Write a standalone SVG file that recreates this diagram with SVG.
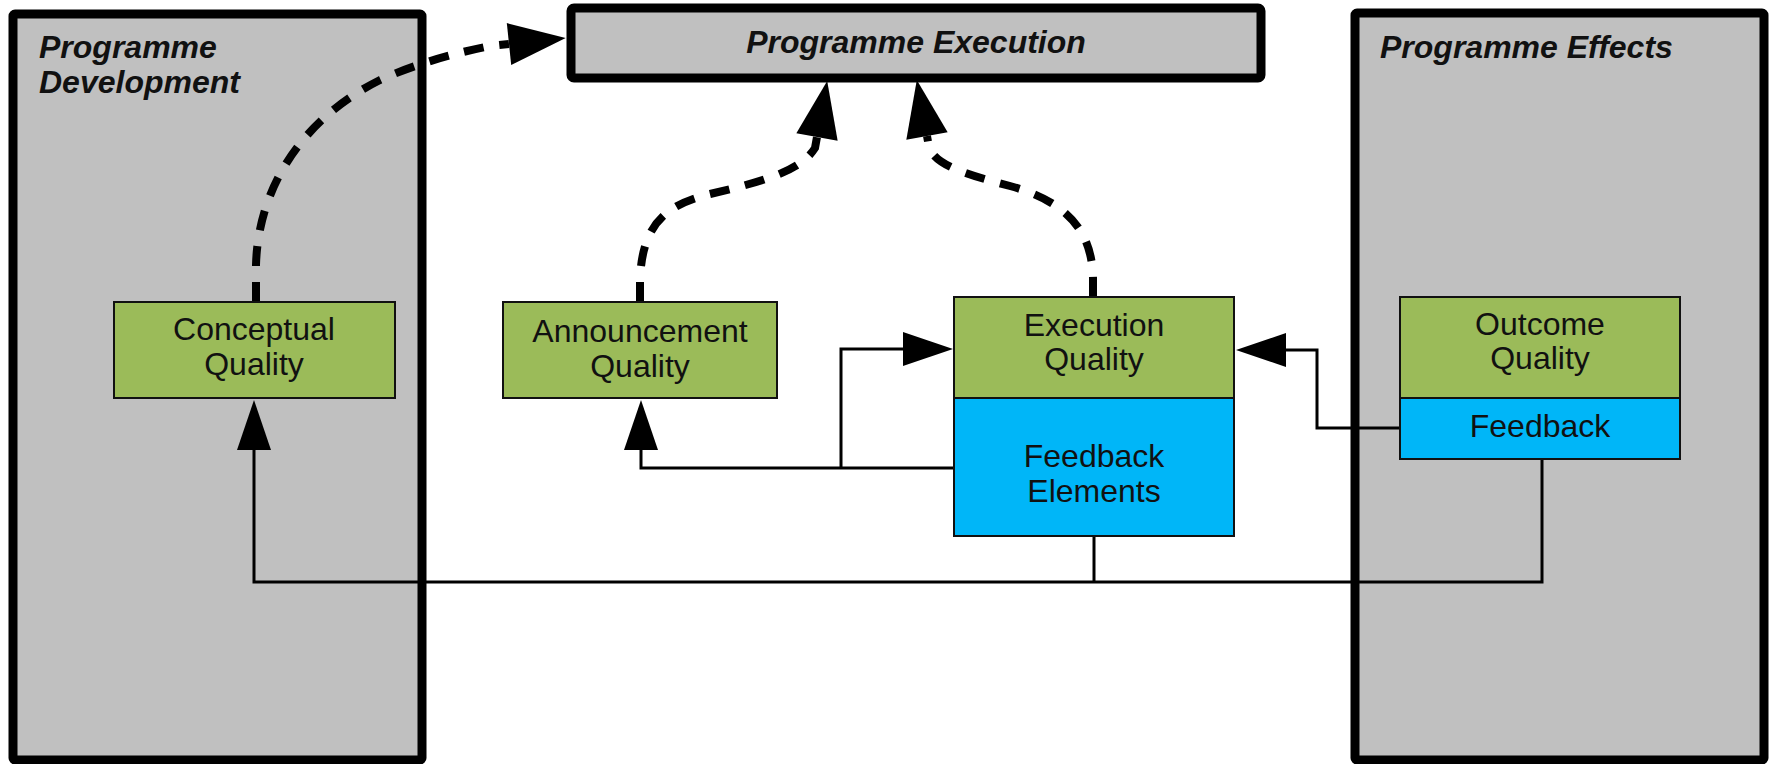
<svg xmlns="http://www.w3.org/2000/svg" width="1772" height="764" viewBox="0 0 1772 764">
  <style>
    .container { fill: #C0C0C0; stroke: #000; stroke-width: 9; }
    .title { font-family: "Liberation Sans", Arial, sans-serif; font-size: 32px; font-weight: bold; font-style: italic; fill: #111; }
    .green { fill: #9BBB59; stroke: #111; stroke-width: 2; }
    .blue { fill: #00B6F8; stroke: #111; stroke-width: 2; }
    .label { font-family: "Liberation Sans", Arial, sans-serif; font-size: 32px; fill: #111; text-anchor: middle; }
    .dashed { fill: none; stroke: #000; stroke-width: 8; stroke-dasharray: 20 16; }
    .solid { fill: none; stroke: #000; stroke-width: 3; }
  </style>
  <defs>
    <marker id="bigArrow" markerUnits="userSpaceOnUse" markerWidth="60" markerHeight="46" viewBox="0 -23 60 46" refX="0" refY="0" orient="auto" overflow="visible">
      <path d="M0,-21 L57,0 L0,21 Z" fill="#000"/>
    </marker>
    <marker id="smallArrow" markerUnits="userSpaceOnUse" markerWidth="52" markerHeight="38" viewBox="0 -19 52 38" refX="0" refY="0" orient="auto" overflow="visible">
      <path d="M0,-17 L50,0 L0,17 Z" fill="#000"/>
    </marker>
  </defs>

  <g id="programme-development">
    <rect class="container" x="13" y="14" width="409" height="746" rx="2"/>
    <text class="title" x="39" y="58">Programme</text>
    <text class="title" x="39" y="93">Development</text>
  </g>

  <g id="programme-effects">
    <rect class="container" x="1355" y="13" width="409" height="747" rx="2"/>
    <text class="title" x="1380" y="58">Programme Effects</text>
  </g>

  <g id="programme-execution">
    <rect class="container" x="571" y="8" width="690" height="70" rx="3" stroke-width="8"/>
    <text class="title" x="916" y="53" text-anchor="middle">Programme Execution</text>
  </g>

  <g id="connectors">
    <path class="dashed" d="M256,302 L256,265 C258,190 300,120 380,80 C420,62 460,52 490,46 L509,44" marker-end="url(#bigArrow)"/>
    <path class="dashed" d="M640,302 L640,280 C642,225 665,205 710,194 C760,182 800,172 815,148 L817,137" marker-end="url(#bigArrow)"/>
    <path class="dashed" d="M1093,297 L1093,278 C1092,225 1060,200 1010,186 C965,174 935,165 929,147 L927,136" marker-end="url(#bigArrow)"/>
    <path class="solid" d="M1542,459 V582 H254 V450" marker-end="url(#smallArrow)"/>
    <path class="solid" d="M1094,536 V582"/>
    <path class="solid" d="M954,468 H641 V450" marker-end="url(#smallArrow)"/>
    <path class="solid" d="M841,468 V349 H903" marker-end="url(#smallArrow)"/>
    <path class="solid" d="M1400,428 H1317 V350 H1286" marker-end="url(#smallArrow)"/>
  </g>

  <g id="conceptual-quality">
    <rect class="green" x="114" y="302" width="281" height="96"/>
    <text class="label" x="254" y="340">Conceptual</text>
    <text class="label" x="254" y="375">Quality</text>
  </g>

  <g id="announcement-quality">
    <rect class="green" x="503" y="302" width="274" height="96"/>
    <text class="label" x="640" y="342">Announcement</text>
    <text class="label" x="640" y="377">Quality</text>
  </g>

  <g id="execution-quality">
    <rect class="green" x="954" y="297" width="280" height="101"/>
    <text class="label" x="1094" y="336">Execution</text>
    <text class="label" x="1094" y="370">Quality</text>
  </g>

  <g id="feedback-elements">
    <rect class="blue" x="954" y="398" width="280" height="138"/>
    <text class="label" x="1094" y="467">Feedback</text>
    <text class="label" x="1094" y="502">Elements</text>
  </g>

  <g id="outcome-quality">
    <rect class="green" x="1400" y="297" width="280" height="101"/>
    <text class="label" x="1540" y="335">Outcome</text>
    <text class="label" x="1540" y="369">Quality</text>
  </g>

  <g id="feedback">
    <rect class="blue" x="1400" y="398" width="280" height="61"/>
    <text class="label" x="1540" y="437">Feedback</text>
  </g>
</svg>
